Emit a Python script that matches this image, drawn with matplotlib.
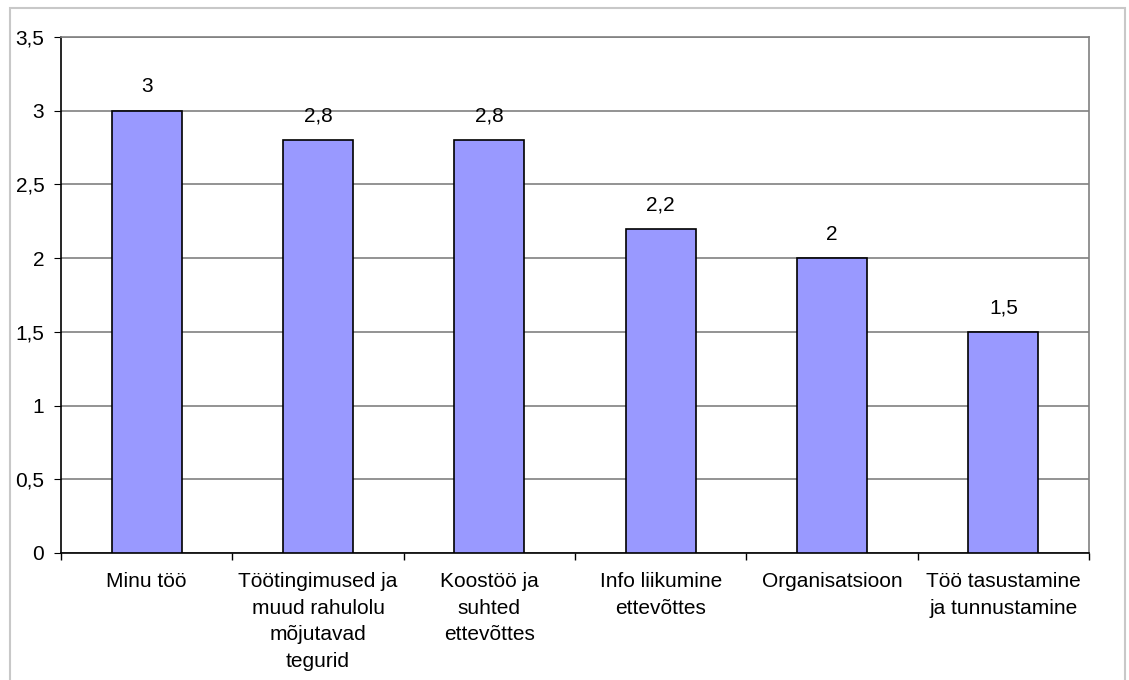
import matplotlib.pyplot as plt
import numpy as np
from matplotlib.patches import Rectangle

categories = ["Minu töö", "Töötingimused ja\nmuud rahulolu\nmõjutavad\ntegurid",
              "Koostöö ja\nsuhted\nettevõttes", "Info liikumine\nettevõttes",
              "Organisatsioon", "Töö tasustamine\nja tunnustamine"]
values = [3, 2.8, 2.8, 2.2, 2, 1.5]
value_labels = ["3", "2,8", "2,8", "2,2", "2", "1,5"]
yticks = [0, 0.5, 1, 1.5, 2, 2.5, 3, 3.5]
ytick_labels = ["0", "0,5", "1", "1,5", "2", "2,5", "3", "3,5"]

plt.rcParams['font.family'] = ['Liberation Sans', 'DejaVu Sans']
plt.rcParams['font.size'] = 15

fig = plt.figure(figsize=(11.29, 6.8), dpi=100)
fig.patches.append(Rectangle((10 / 1129, -0.05), (1125 - 10) / 1129, 1.05 - 8 / 680,
                             transform=fig.transFigure, fill=False,
                             edgecolor='#c8c8c8', linewidth=1.5))
ax = fig.add_axes([61 / 1129, 127 / 680, 1028 / 1129, 516 / 680])

x = np.arange(len(categories))
ax.bar(x, values, width=0.41, color='#9999ff', edgecolor='black', linewidth=1.2, zorder=3)
for xi, v, lab in zip(x, values, value_labels):
    ax.annotate(lab, (xi, v), xytext=(0, 10.5), textcoords='offset points',
                ha='center', va='bottom', fontsize=15)

ax.set_xlim(-0.5, len(categories) - 0.5)
ax.set_ylim(0, 3.5)
ax.set_yticks(yticks)
ax.set_yticklabels(ytick_labels)
ax.yaxis.grid(True, color='#808080', linewidth=1.2, zorder=0)

ax.set_xticks(np.arange(len(categories) + 1) - 0.5)
ax.set_xticklabels([])
ax.set_xticks(x, minor=True)
ax.set_xticklabels(categories, minor=True, ha='center', va='top', linespacing=1.5)
ax.tick_params(axis='x', which='minor', length=0, pad=14)
ax.tick_params(axis='x', which='major', length=5, direction='out', width=1)
ax.tick_params(axis='y', length=5, direction='out', pad=7)

ax.spines['left'].set_color('black')
ax.spines['bottom'].set_color('black')
ax.spines['top'].set_color('#808080')
ax.spines['right'].set_color('#808080')
for s in ax.spines.values():
    s.set_linewidth(1.2)

fig.savefig("out.png", dpi=100)
